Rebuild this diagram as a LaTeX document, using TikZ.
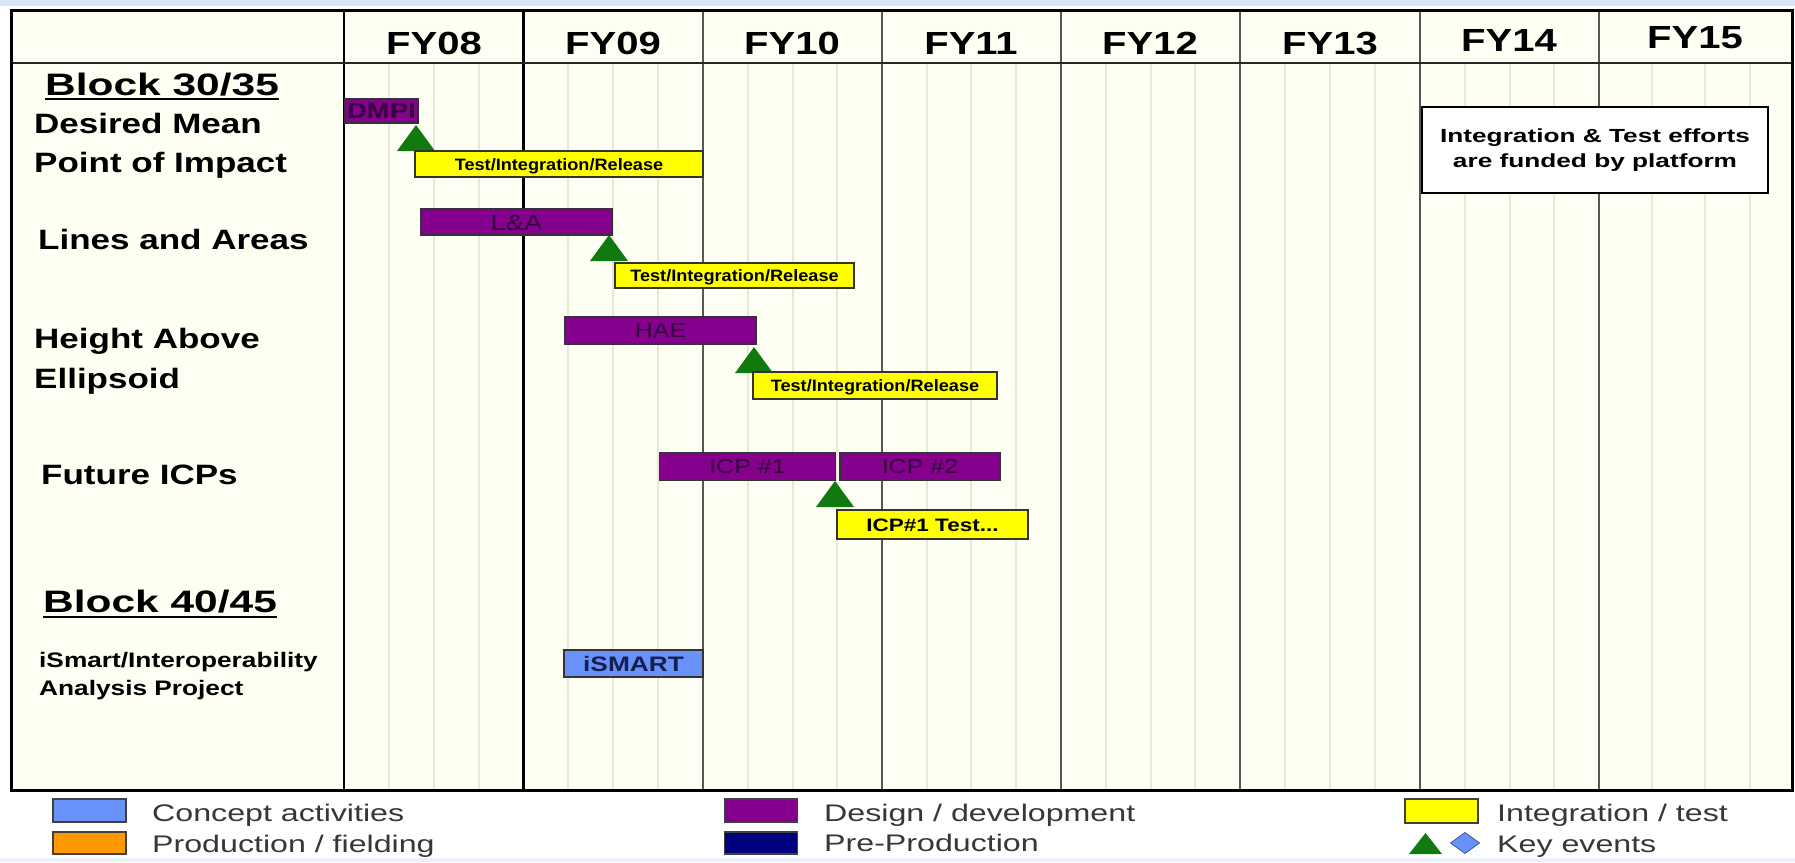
\documentclass[tikz,border=0pt]{standalone}
\usepackage{fontspec}
\setmainfont{Liberation Sans}
\newfontfamily\widefont[FakeStretch=1.25]{Liberation Sans}
\newfontfamily\blockfont[FakeStretch=1.37]{Liberation Sans}
\newfontfamily\tagfont[FakeStretch=1.1]{Liberation Sans}
\newfontfamily\notefont[FakeStretch=1.38]{Liberation Sans}
\newfontfamily\legendfont[FakeStretch=1.34]{Liberation Sans}

\definecolor{paper}{RGB}{254,254,242}
\definecolor{frameblue}{RGB}{214,228,244}
\definecolor{minorline}{RGB}{232,232,218}
\definecolor{majorline}{RGB}{85,85,85}
\definecolor{devpurple}{RGB}{134,0,142}
\definecolor{devtext}{RGB}{52,0,62}
\definecolor{testyellow}{RGB}{255,255,0}
\definecolor{keygreen}{RGB}{16,122,16}
\definecolor{conceptblue}{RGB}{104,146,250}
\definecolor{concepttext}{RGB}{22,32,80}
\definecolor{prodorange}{RGB}{255,152,0}
\definecolor{preprodnavy}{RGB}{0,0,128}
\definecolor{legendtext}{RGB}{55,55,55}

\begin{document}
\begin{tikzpicture}[x=1pt,y=-1pt,
  yearlab/.style={inner sep=0pt, font=\widefont\bfseries\fontsize{32}{36}\selectfont, text height=23pt, text depth=0pt},
  rowlab/.style={inner sep=0pt, anchor=base west, font=\widefont\bfseries\fontsize{28}{32}\selectfont},
  blocklab/.style={inner sep=0pt, anchor=base west, font=\blockfont\bfseries\fontsize{31}{34}\selectfont},
  smalllab/.style={inner sep=0pt, anchor=base west, font=\widefont\bfseries\fontsize{21}{24}\selectfont},
  bar/.style={draw=black!80, line width=1.2pt, inner sep=0pt, text depth=0pt},
  devbar/.style={bar, fill=devpurple, text=devtext, font=\widefont\fontsize{20}{24}\selectfont, text height=14pt},
  testbar/.style={bar, fill=testyellow, font=\tagfont\bfseries\fontsize{16.5}{20}\selectfont, text height=12pt},
  conceptbar/.style={bar, fill=conceptblue, text=concepttext, font=\widefont\bfseries\fontsize{21}{24}\selectfont, text height=15pt},
  notebox/.style={draw=black, line width=1.8pt, fill=white, align=center, inner sep=0pt,
    font=\notefont\bfseries\fontsize{19}{25}\selectfont},
  legbox/.style={draw=black!75, line width=1.2pt, minimum width=73pt, minimum height=23pt, inner sep=0pt},
  legtext/.style={inner sep=0pt, anchor=base west, text=legendtext, font=\legendfont\fontsize{24}{28}\selectfont},
  keytri/.pic={\fill[keygreen] (0,0) -- (19,26) -- (-19,26) -- cycle;}
]
\useasboundingbox (0,0) rectangle (1795,862);

% page and chart background
\fill[white] (0,0) rectangle (1795,862);
\fill[frameblue] (0,0) rectangle (1795,6);
\fill[frameblue!50] (0,858) rectangle (1795,862);
\fill[paper] (11,10) rectangle (1792,790);

% quarter lines
\foreach \x in {389,434,479, 568,613,658, 748,793,837, 927,971,1016,
                1106,1151,1195, 1285,1330,1375, 1465,1510,1554, 1652,1705,1750}
  \draw[minorline, line width=1.2pt] (\x,64) -- (\x,789);

% year dividers
\foreach \x in {703,882,1061,1240,1420,1599}
  \draw[majorline, line width=1.4pt] (\x,10) -- (\x,790);
\draw[black, line width=1.6pt] (344,10) -- (344,790);
\draw[black, line width=2.6pt] (523.5,10) -- (523.5,790);
\draw[black!85, line width=2pt] (11,63) -- (1792,63);
\draw[black, line width=3pt] (11,10) rectangle (1792,790);

% fiscal year headings
\foreach \lab/\cx/\cy in {FY08/434/43, FY09/613/43, FY10/792/43, FY11/971/43,
                          FY12/1150/43, FY13/1330/43, FY14/1509/40, FY15/1695/37}
  \node[yearlab] (\lab) at (\cx,\cy) {\lab};

% row headings
\node[blocklab] (blockA) at (45,95) {Block 30/35};
\draw[line width=2.2pt] ([yshift=-4pt]blockA.base west) -- ([yshift=-4pt]blockA.base east);
\node[rowlab] (dmpiA) at (34,133) {Desired Mean};
\node[rowlab] (dmpiB) at (34,172) {Point of Impact};
\node[rowlab] (laA) at (38,249) {Lines and Areas};
\node[rowlab] (haeA) at (34,348) {Height Above};
\node[rowlab] (haeB) at (34,388) {Ellipsoid};
\node[rowlab] (icpA) at (41,484) {Future ICPs};
\node[blocklab] (blockB) at (43,612) {Block 40/45};
\draw[line width=2.2pt] ([yshift=-5pt]blockB.base west) -- ([yshift=-5pt]blockB.base east);
\node[smalllab] (ismA) at (39,667) {iSmart/Interoperability};
\node[smalllab] (ismB) at (39,695) {Analysis Project};

% key events
\pic at (416,125) {keytri};
\pic at (609,235) {keytri};
\pic at (754,347) {keytri};
\pic at (835,481) {keytri};

% activity bars
\node[devbar, minimum width=73pt, minimum height=24pt, text height=15pt,
      font=\widefont\bfseries\fontsize{22}{24}\selectfont] (dmpi) at (381.5,111) {DMPI};
\node[testbar, minimum width=288pt, minimum height=26pt] (dmpitest) at (559,164) {Test/Integration/Release};
\node[devbar, minimum width=191pt, minimum height=26pt, text height=16pt,
      font=\widefont\fontsize{22}{24}\selectfont] (la) at (516.5,222) {L\&A};
\node[testbar, minimum width=239pt, minimum height=25pt] (latest) at (734.5,275.5) {Test/Integration/Release};
\node[devbar, minimum width=191pt, minimum height=27pt] (hae) at (660.5,330.5) {HAE};
\node[testbar, minimum width=244pt, minimum height=27pt] (haetest) at (875,385.5) {Test/Integration/Release};
\node[devbar, minimum width=176pt, minimum height=28pt] (icpone) at (747.5,466.5) {ICP \#1};
\node[devbar, minimum width=160pt, minimum height=28pt] (icptwo) at (920,466.5) {ICP \#2};
\node[testbar, minimum width=191pt, minimum height=29pt, text height=13pt,
      font=\widefont\bfseries\fontsize{18}{20}\selectfont] (icptest) at (932.5,524.5) {ICP\#1 Test...};
\node[conceptbar, minimum width=139pt, minimum height=27pt] (ismart) at (633.5,663.5) {iSMART};

% funding note
\node[notebox, minimum width=346pt, minimum height=86pt] (note) at (1595,150)
  {Integration \& Test efforts\\are funded by platform};

% legend
\node[legbox, fill=conceptblue] (lgconcept) at (89.5,810.5) {};
\node[legtext] (lgconcepttxt) at (152,821) {Concept activities};
\node[legbox, fill=prodorange, minimum height=22pt] (lgprod) at (89.5,843) {};
\node[legtext] (lgprodtxt) at (152,852) {Production / fielding};
\node[legbox, fill=devpurple] (lgdesign) at (761,810.5) {};
\node[legtext] (lgdesigntxt) at (824,821) {Design / development};
\node[legbox, fill=preprodnavy, minimum height=22pt] (lgpre) at (761,843) {};
\node[legtext] (lgpretxt) at (824,851) {Pre-Production};
\node[legbox, fill=testyellow, minimum height=24pt] (lgtest) at (1441.5,811) {};
\node[legtext] (lgtesttxt) at (1497,821) {Integration / test};
\fill[keygreen] (1425.5,833) -- (1442,854) -- (1409,854) -- cycle;
\draw[fill=conceptblue, draw=conceptblue!60!black, line width=0.8pt]
  (1465,832.5) -- (1479.5,843) -- (1465,853.5) -- (1450.5,843) -- cycle;
\node[legtext] (lgkeytxt) at (1497,852) {Key events};
\end{tikzpicture}
\end{document}
